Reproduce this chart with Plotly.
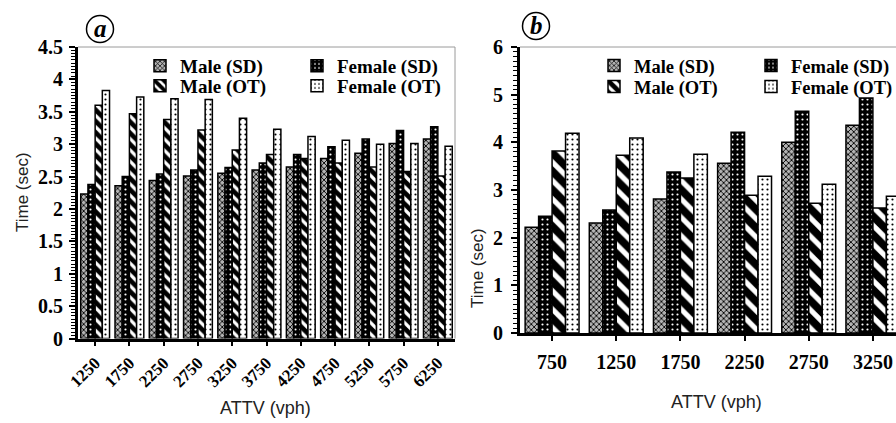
import plotly.graph_objects as go

# ---------------- data ----------------
cats_a = ["1250", "1750", "2250", "2750", "3250", "3750", "4250", "4750", "5250", "5750", "6250"]
male_sd_a = [2.23, 2.36, 2.44, 2.51, 2.55, 2.60, 2.65, 2.78, 2.86, 3.01, 3.08]
female_sd_a = [2.38, 2.50, 2.54, 2.60, 2.64, 2.71, 2.84, 2.96, 3.08, 3.21, 3.27]
male_ot_a = [3.60, 3.47, 3.38, 3.22, 2.91, 2.84, 2.78, 2.71, 2.65, 2.58, 2.51]
female_ot_a = [3.83, 3.73, 3.70, 3.69, 3.40, 3.23, 3.12, 3.06, 3.00, 3.01, 2.97]

cats_b = ["750", "1250", "1750", "2250", "2750", "3250"]
male_sd_b = [2.22, 2.31, 2.81, 3.56, 4.00, 4.36]
female_sd_b = [2.45, 2.58, 3.38, 4.21, 4.65, 4.93]
male_ot_b = [3.82, 3.73, 3.25, 2.89, 2.72, 2.62]
female_ot_b = [4.19, 4.09, 3.75, 3.29, 3.12, 2.87]

series_names = ["Male (SD)", "Female (SD)", "Male (OT)", "Female (OT)"]

W, H = 896, 423
def px(x):
    return x / W
def py(y):
    return 1 - y / H

serif = "Liberation Serif"
sans = "Liberation Sans"

def pattern(i, panel):
    if i == 0:
        return dict(shape="x", bgcolor="#b4b4b4", fgcolor="black", fgopacity=1, size=4, solidity=0.4)
    if i == 1:
        return dict(shape=".", bgcolor="black", fgcolor="white", fgopacity=1, size=5, solidity=0.15)
    if i == 2:
        return dict(shape="\\", bgcolor="white", fgcolor="black", fgopacity=1,
                    size=8 if panel == "a" else 13, solidity=0.6)
    return dict(shape=".", bgcolor="white", fgcolor="black", fgopacity=1, size=5, solidity=0.15)

fig = go.Figure()

data_a = [male_sd_a, female_sd_a, male_ot_a, female_ot_a]
data_b = [male_sd_b, female_sd_b, male_ot_b, female_ot_b]

for i, (name, vals) in enumerate(zip(series_names, data_a)):
    fig.add_trace(go.Bar(
        x=cats_a, y=vals, name=name, xaxis="x", yaxis="y",
        marker=dict(color="white", line=dict(color="black", width=1.5), pattern=pattern(i, "a")),
        legend="legend" if i < 2 else "legend2",
    ))
for i, (name, vals) in enumerate(zip(series_names, data_b)):
    fig.add_trace(go.Bar(
        x=cats_b, y=vals, name=name, xaxis="x2", yaxis="y2",
        marker=dict(color="white", line=dict(color="black", width=1.5), pattern=pattern(i, "b")),
        legend="legend3" if i < 2 else "legend4",
    ))

tickfont = dict(family=serif, size=20, color="black", weight="bold")

def leg(x, y, size):
    return dict(x=x, y=y, xanchor="left", yanchor="middle", orientation="h",
                font=dict(family=serif, size=size, color="black", weight="bold"),
                bgcolor="rgba(0,0,0,0)", entrywidth=112,
                itemclick=False, itemdoubleclick=False)

fig.update_layout(
    width=W, height=H,
    margin=dict(l=0, r=0, t=0, b=0, autoexpand=False),
    paper_bgcolor="white", plot_bgcolor="white",
    barmode="group", bargap=0.16, bargroupgap=0,
    showlegend=True,
    legend=leg(px(140), py(66), 19),
    legend2=leg(px(140), py(86), 19),
    legend3=leg(px(594), py(66), 18.5),
    legend4=leg(px(594), py(87), 18.5),
    xaxis=dict(domain=[px(78), px(455)], anchor="y", range=[-0.5, 10.5], automargin=False,
               showline=True, linecolor="black", linewidth=2.5,
               ticks="outside", ticklen=5, tickwidth=2, tickcolor="black",
               tickangle=-45, tickfont=dict(family=serif, size=17, color="black", weight="bold"),
               showgrid=False, zeroline=False),
    yaxis=dict(domain=[py(338.6), py(47)], anchor="x", range=[0, 4.5], dtick=0.5, automargin=False,
               showline=True, linecolor="black", linewidth=3,
               ticks="outside", ticklen=6, tickwidth=2, tickcolor="black",
               minor=dict(dtick=0.05, ticks="outside", ticklen=4, tickwidth=1.2, tickcolor="black"),
               tickfont=tickfont, showgrid=False, zeroline=False, ticklabelstandoff=2),
    xaxis2=dict(domain=[px(520), 1.0], anchor="y2", range=[-0.5, 5.36], automargin=False,
                showline=True, linecolor="black", linewidth=2.5,
                ticks="outside", ticklen=5, tickwidth=2, tickcolor="black",
                tickangle=0, tickfont=tickfont, ticklabelstandoff=4,
                showgrid=False, zeroline=False),
    yaxis2=dict(domain=[py(333), py(47)], anchor="x2", range=[0, 6], dtick=1, automargin=False,
                showline=True, linecolor="black", linewidth=3,
                ticks="outside", ticklen=6, tickwidth=2, tickcolor="black",
                minor=dict(dtick=0.1, ticks="outside", ticklen=4, tickwidth=1.2, tickcolor="black"),
                tickfont=tickfont, showgrid=False, zeroline=False, ticklabelstandoff=4),
)

# frame lines (top / right, gray)
fig.add_shape(type="line", xref="x domain", yref="y domain", x0=0, x1=1, y0=1, y1=1,
              line=dict(color="#9a9a9a", width=1))
fig.add_shape(type="line", xref="x domain", yref="y domain", x0=1, x1=1, y0=0, y1=1,
              line=dict(color="#9a9a9a", width=1))
fig.add_shape(type="line", xref="x2 domain", yref="y2 domain", x0=0, x1=1, y0=1, y1=1,
              line=dict(color="#9a9a9a", width=1))

def ann(x, y, text, font, angle=0):
    fig.add_annotation(x=px(x), y=py(y), xref="paper", yref="paper", showarrow=False,
                       xanchor="center", yanchor="middle", text=text, font=font,
                       textangle=angle)

# circled panel labels
for cx, cy, lab in [(100, 29, "a"), (536, 26, "b")]:
    r = 13.5
    fig.add_shape(type="circle", xref="paper", yref="paper",
                  x0=px(cx - r), x1=px(cx + r), y0=py(cy + r), y1=py(cy - r),
                  line=dict(color="black", width=1.5))
    ann(cx, cy, f"<b><i>{lab}</i></b>", dict(family=serif, size=25, color="black"))

# axis titles
ann(265, 408, "ATTV (vph)", dict(family=sans, size=18, color="#222"))
ann(716, 402, "ATTV (vph)", dict(family=sans, size=18, color="#222"))
ann(22, 192, "Time (sec)", dict(family=sans, size=17, color="#222"), angle=-90)
ann(477, 268, "Time (sec)", dict(family=sans, size=17, color="#222"), angle=-90)

fig.write_html("out.html")
